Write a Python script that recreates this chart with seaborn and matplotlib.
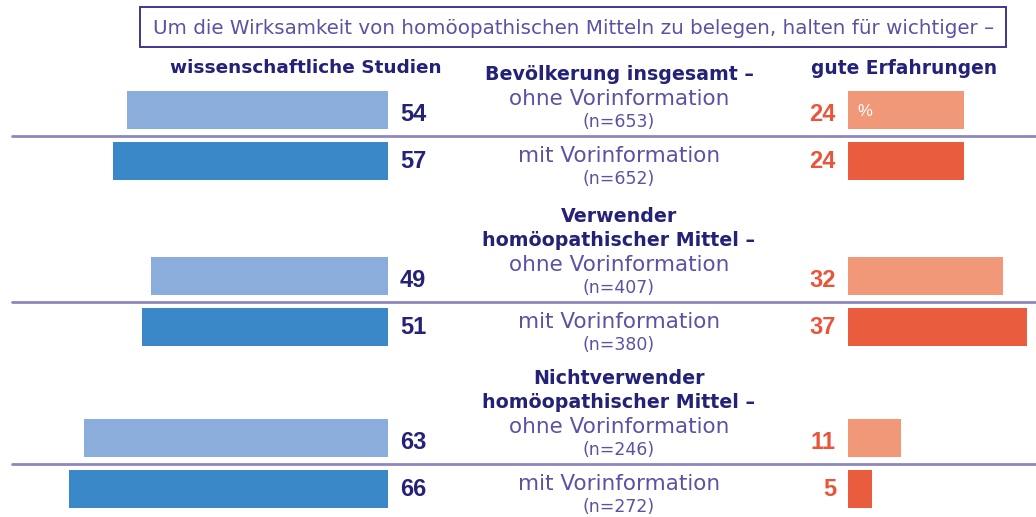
import matplotlib
matplotlib.use("Agg")
import matplotlib.pyplot as plt
import seaborn as sns
from matplotlib.patches import Rectangle

# data
groups = ["Bevölkerung insgesamt –",
          "Verwender\nhomöopathischer Mittel –",
          "Nichtverwender\nhomöopathischer Mittel –"]
conditions = ["ohne Vorinformation", "mit Vorinformation"]
n_sizes = [[653, 652], [407, 380], [246, 272]]
studien = [[54, 57], [49, 51], [63, 66]]
erfahrungen = [[24, 24], [32, 37], [11, 5]]

title = "Um die Wirksamkeit von homöopathischen Mitteln zu belegen, halten für wichtiger –"
left_header = "wissenschaftliche Studien"
right_header = "gute Erfahrungen"

blues = ["#8aaddb", "#3a88c8"]
oranges = ["#f19878", "#e95c3e"]
navy = "#242178"
purple = "#5a52a4"
red_txt = "#e8553a"

sns.set_theme(style="white")
plt.rcParams['font.family'] = ['DejaVu Sans']

W, H = 1036, 517
fig = plt.figure(figsize=(W / 100, H / 100), dpi=100)

# overlay axes in pixel coordinates for text and rules
ov = fig.add_axes([0, 0, 1, 1])
ov.set_xlim(0, W)
ov.set_ylim(H, 0)
ov.axis("off")

ov.add_patch(Rectangle((140, 7), 866, 40, fill=False, edgecolor="#3f3691", lw=1.4))
ov.text(574, 28, title, ha="center", va="center", fontsize=14.3, color=purple)
ov.text(306, 68, left_header, ha="center", va="center", fontsize=13.3,
        fontweight="bold", color=navy)
ov.text(904, 68, right_header, ha="center", va="center", fontsize=13.4,
        fontweight="bold", color=navy)

px_unit = 4.83
left_max = 80
right_max = 38
bar_right = 388
bar_left = 848
centers = [110, 276, 438]
step = 51
mid_x = 619

for g, c in enumerate(centers):
    bottom = 1 - (c + step * 1.5) / H
    height = 2 * step / H

    axl = fig.add_axes([(bar_right - left_max * px_unit) / W, bottom,
                        left_max * px_unit / W, height])
    sns.barplot(x=studien[g], y=conditions, hue=conditions, palette=blues,
                saturation=1, orient="h", width=38 / step, legend=False,
                ax=axl, linewidth=0)
    axl.set_xlim(left_max, 0)
    axl.set_ylim(1.5, -0.5)
    axl.axis("off")
    for i, v in enumerate(studien[g]):
        axl.text(-12 / px_unit, i + (0.08 if i == 0 else 0), str(v), ha="left",
                 va="center", fontsize=17, fontweight="bold", color=navy,
                 family="Liberation Sans")

    axr = fig.add_axes([bar_left / W, bottom, right_max * px_unit / W, height])
    sns.barplot(x=erfahrungen[g], y=conditions, hue=conditions, palette=oranges,
                saturation=1, orient="h", width=38 / step, legend=False,
                ax=axr, linewidth=0)
    axr.set_xlim(0, right_max)
    axr.set_ylim(1.5, -0.5)
    axr.axis("off")
    for i, v in enumerate(erfahrungen[g]):
        axr.text(-12 / px_unit, i + (0.08 if i == 0 else 0), str(v), ha="right",
                 va="center", fontsize=17, fontweight="bold", color=red_txt,
                 family="Liberation Sans")
    if g == 0:
        axr.text(2, 0.02, "%", ha="left", va="center", fontsize=12,
                 color="white", family="Liberation Sans")

    # middle labels
    lines = groups[g].split("\n")
    for k, line in enumerate(reversed(lines)):
        ov.text(mid_x, c - 36 - 23 * k, line, ha="center", va="center",
                fontsize=13.7, fontweight="bold", color=navy)
    ov.text(mid_x, c - 11, conditions[0], ha="center", va="center",
            fontsize=15.5, color=purple)
    ov.text(mid_x, c + 12, f"(n={n_sizes[g][0]})", ha="center", va="center",
            fontsize=12.5, color=purple)
    ov.text(mid_x, c + step - 5, conditions[1], ha="center", va="center",
            fontsize=15.5, color=purple)
    ov.text(mid_x, c + step + 18, f"(n={n_sizes[g][1]})", ha="center",
            va="center", fontsize=12.5, color=purple)

    ov.plot([12, W], [c + step / 2] * 2, color="#8e87bf", lw=2)

fig.savefig("out.png", dpi=100)
